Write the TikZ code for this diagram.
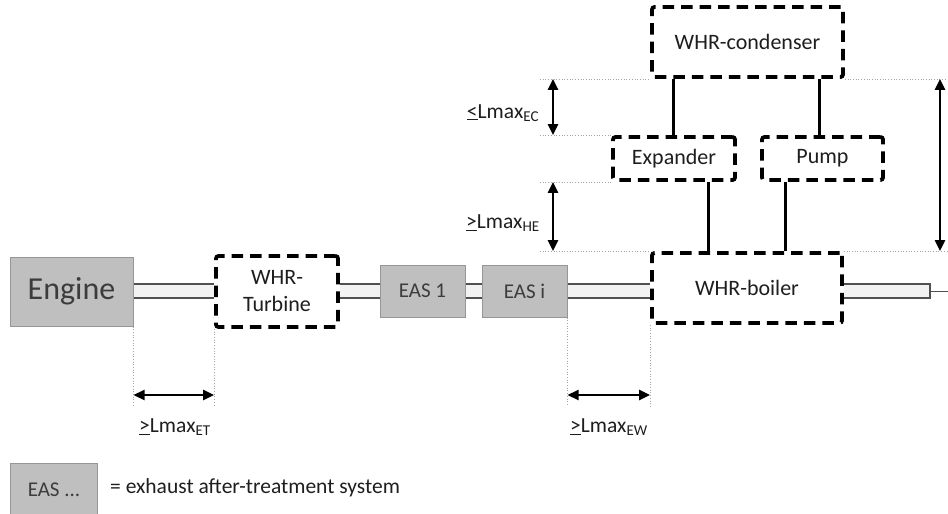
\documentclass[tikz,border=0pt]{standalone}
\usepackage{fontspec}
\setmainfont{Carlito}
\usetikzlibrary{arrows.meta,calc,backgrounds}
\definecolor{boxfillc}{RGB}{191,191,191}
\definecolor{boxedgec}{RGB}{150,150,150}
\definecolor{boxtextc}{RGB}{60,60,60}
\definecolor{pipefillc}{RGB}{242,242,242}
\definecolor{pipeedgec}{RGB}{80,80,80}
\definecolor{guidec}{RGB}{165,165,165}
\definecolor{txtc}{RGB}{30,30,30}
\newcommand\pipeseg[2]{%
  \fill[pipefillc] ($(#1.east|-axis)+(0,-7)$) rectangle ($(#2.west|-axis)+(0,7)$);
  \draw[pipeline] ($(#1.east|-axis)+(0,-7)$) -- ($(#2.west|-axis)+(0,-7)$)
                  ($(#1.east|-axis)+(0,7)$) -- ($(#2.west|-axis)+(0,7)$);}
\begin{document}
\begin{tikzpicture}[x=1pt,y=-1pt,
  graybox/.style={draw=boxedgec, fill=boxfillc, line width=1pt, text=boxtextc, inner sep=0pt,
    font=\fontsize{21}{25}\selectfont},
  dashbox/.style={draw=black, fill=white, line width=3.8pt, dash pattern=on 11.5pt off 7pt,
    rounded corners=2.5pt, inner sep=0pt, text=txtc, align=center, font=\fontsize{22}{27}\selectfont},
  link/.style={line width=3pt, black},
  guide/.style={draw=guidec, line width=0.7pt, dotted},
  dimarrow/.style={line width=2.2pt, black, {Triangle[length=11pt,width=10pt]}-{Triangle[length=11pt,width=10pt]}},
  pipeline/.style={draw=pipeedgec, line width=1.5pt},
  lbl/.style={text=txtc, inner sep=0pt, font=\fontsize{21.5}{25}\selectfont}]
\useasboundingbox (0,0) rectangle (948,514);
\coordinate (axis) at (0,291);
% main line
\node[graybox, minimum width=123pt, minimum height=69pt, font=\fontsize{32}{36}\selectfont] (engine) at (71.5,291.5) {Engine};
\node[dashbox, minimum width=122pt, minimum height=71pt] (turbine) at (277,291.5) {WHR-\\Turbine};
\node[graybox, minimum width=85pt, minimum height=52pt] (eas1) at (422.5,291) {EAS 1};
\node[graybox, minimum width=85pt, minimum height=52pt] (easi) at (524.5,291) {EAS i};
\node[dashbox, minimum width=190pt, minimum height=70pt] (boiler) at (747,288) {WHR-boiler};
% WHR loop
\node[dashbox, minimum width=122pt, minimum height=43pt] (expander) at (674,158.5) {Expander};
\node[dashbox, minimum width=121pt, minimum height=43pt] (pump) at (822.5,158.5) {Pump};
\node[dashbox, minimum width=191pt, minimum height=70pt] (condenser) at (747.5,42) {WHR-condenser};
% legend
\node[graybox, minimum width=87pt, minimum height=52pt, anchor=north west] (legend) at (10,463) {EAS ...};
\node[lbl, anchor=west] (legdesc) at (110,488) {= exhaust after-treatment system};
\coordinate (pipeend) at (930,291);
\coordinate (exitend) at (948,291);
\begin{scope}[on background layer]
  \pipeseg{engine}{turbine}
  \pipeseg{turbine}{eas1}
  \pipeseg{eas1}{easi}
  \pipeseg{easi}{boiler}
  \draw[pipeline, fill=pipefillc] ($(boiler.east|-axis)+(0,-7)$) -- ($(pipeend)+(0,-7)$) -- ($(pipeend)+(0,7)$) -- ($(boiler.east|-axis)+(0,7)$);
  \draw[draw=pipeedgec, line width=1pt] (pipeend) -- (exitend);
  % guides
  \coordinate (gl) at (540,0);
  \coordinate (gr) at (948,0);
  \coordinate (gb) at (0,406);
  \draw[guide] (gl |- condenser.south) -- (condenser.south west);
  \draw[guide] (condenser.south east) -- (gr |- condenser.south);
  \draw[guide] (gl |- expander.north) -- (expander.north west);
  \draw[guide] (gl |- expander.south) -- (expander.south west);
  \draw[guide] (gl |- boiler.north) -- (boiler.north west);
  \draw[guide] (boiler.north east) -- (gr |- boiler.north);
  \draw[guide] (engine.south east) -- (engine.south east |- gb);
  \draw[guide] (turbine.south west) -- (turbine.south west |- gb);
  \draw[guide] (easi.south east) -- (easi.south east |- gb);
  \draw[guide] (boiler.south west) -- (boiler.south west |- gb);
  % links
  \draw[link] ([xshift=-1pt]expander.north) -- ([xshift=-1pt]expander.north |- condenser.south);
  \draw[link] ([xshift=-3.5pt]pump.north) -- ([xshift=-3.5pt]pump.north |- condenser.south);
  \draw[link] ([xshift=34pt]expander.south) -- ([xshift=34pt]expander.south |- boiler.north);
  \draw[link] ([xshift=-37.5pt]pump.south) -- ([xshift=-37.5pt]pump.south |- boiler.north);
\end{scope}
% dimensions
\coordinate (dimx) at (553,0);
\coordinate (rdimx) at (940,0);
\coordinate (dimy) at (0,395);
\draw[dimarrow] (dimx |- condenser.south) -- (dimx |- expander.north);
\draw[dimarrow] (dimx |- expander.south) -- (dimx |- boiler.north);
\draw[dimarrow] (rdimx |- condenser.south) -- (rdimx |- boiler.north);
\draw[dimarrow] (engine.south east |- dimy) -- (turbine.south west |- dimy);
\draw[dimarrow] (easi.south east |- dimy) -- (boiler.south west |- dimy);
% labels
\node[lbl] (lec) at (503,113) {\underline{<}Lmax\textsubscript{EC}};
\node[lbl] (lhe) at (503,223) {\underline{>}Lmax\textsubscript{HE}};
\node[lbl] (let) at (175,427) {\underline{>}Lmax\textsubscript{ET}};
\node[lbl] (lew) at (609,427) {\underline{>}Lmax\textsubscript{EW}};
\end{tikzpicture}
\end{document}
